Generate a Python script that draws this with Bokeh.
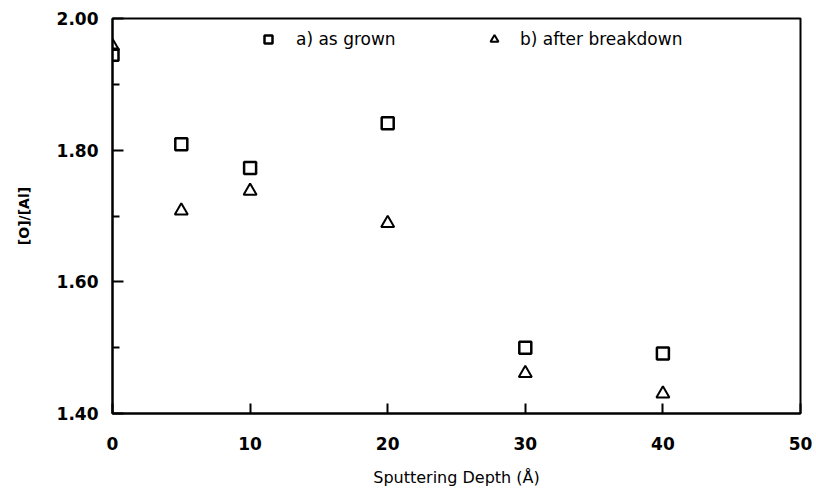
from bokeh.plotting import figure
from bokeh.models import FixedTicker, Legend, LegendItem, Range1d, ColumnDataSource, NumeralTickFormatter
from bokeh.embed import file_html
from bokeh.resources import INLINE

# Data
depth = [0, 5, 10, 20, 30, 40]
as_grown = [1.945, 1.809, 1.773, 1.841, 1.500, 1.491]
after_breakdown = [1.958, 1.708, 1.738, 1.689, 1.461, 1.430]

x_ticks = [0, 10, 20, 30, 40, 50]
y_ticks = [1.40, 1.60, 1.80, 2.00]
y_minor = [1.50, 1.70, 1.90]

p = figure(width=816, height=489, output_backend="svg", toolbar_location=None,
           x_range=Range1d(0, 50), y_range=Range1d(1.40, 2.00),
           min_border_left=112, min_border_right=16, min_border_top=18, min_border_bottom=75)
p.xgrid.visible = False
p.ygrid.visible = False
p.outline_line_color = "black"
p.outline_line_width = 2
p.background_fill_color = "white"
p.border_fill_color = "white"

src_a = ColumnDataSource(dict(x=depth, y=as_grown))
src_b = ColumnDataSource(dict(x=depth, y=after_breakdown))
ra = p.scatter("x", "y", source=src_a, marker="square", size=12, fill_color=None,
               line_color="black", line_width=2.5)
rb = p.scatter("x", "y", source=src_b, marker="triangle", size=13, fill_color=None,
               line_color="black", line_width=2)

# axes
xa = p.xaxis[0]
xa.ticker = FixedTicker(ticks=x_ticks)
xa.axis_line_width = 2
xa.major_tick_in = 10
xa.major_tick_out = 0
xa.major_tick_line_width = 2
xa.minor_tick_line_color = None
xa.major_label_standoff = 23
xa.major_label_text_font = "DejaVu Sans"
xa.major_label_text_font_style = "bold"
xa.major_label_text_font_size = "17px"
xa.major_label_text_color = "black"
xa.axis_label = "Sputtering Depth (Å)"
xa.axis_label_text_font = "DejaVu Sans"
xa.axis_label_text_font_style = "normal"
xa.axis_label_text_font_size = "16px"
xa.axis_label_text_color = "black"
xa.axis_label_standoff = 15

ya = p.yaxis[0]
ya.ticker = FixedTicker(ticks=y_ticks, minor_ticks=y_minor)
ya.formatter = NumeralTickFormatter(format="0.00")
ya.axis_line_width = 2
ya.major_tick_in = 11
ya.major_tick_out = 0
ya.major_tick_line_width = 2
ya.minor_tick_in = 7
ya.minor_tick_out = 0
ya.minor_tick_line_width = 2
ya.major_label_standoff = 14
ya.major_label_text_font = "DejaVu Sans"
ya.major_label_text_font_style = "bold"
ya.major_label_text_font_size = "17px"
ya.major_label_text_color = "black"
ya.axis_label = "[O]/[Al]"
ya.axis_label_text_font = "DejaVu Sans"
ya.axis_label_text_font_style = "bold"
ya.axis_label_text_font_size = "14px"
ya.axis_label_text_color = "black"
ya.axis_label_standoff = 22

def make_legend(label, renderer, loc, standoff):
    lg = Legend(items=[LegendItem(label=label, renderers=[renderer])], location=loc,
                orientation="horizontal", padding=0, margin=0, border_line_color=None,
                background_fill_alpha=0, label_standoff=standoff,
                label_text_font="DejaVu Sans", label_text_font_size="17px",
                label_text_color="black", glyph_width=20, glyph_height=20)
    return lg

p.add_layout(make_legend("a) as grown", ra, (146, 364), 18))
p.add_layout(make_legend("b) after breakdown", rb, (372, 364), 16))

open("out.html", "w").write(file_html(p, INLINE))
